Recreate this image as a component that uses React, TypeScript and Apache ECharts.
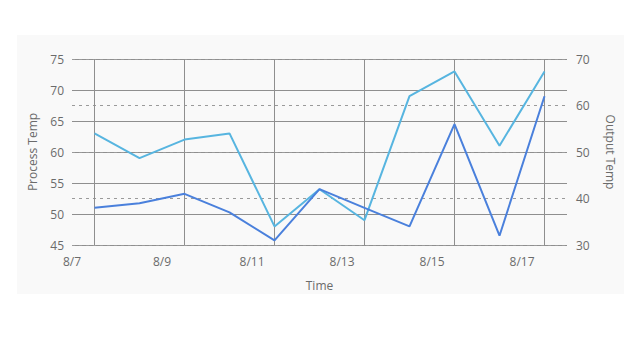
import React, { useEffect, useRef } from "react";
import * as echarts from "echarts";

const DAY = 86400000;
const readingDays = [7, 8, 9, 10, 11, 12, 13, 14, 15, 16, 17]; // August, readings at noon
const processTemp = [63, 59, 62, 63, 48, 54, 49, 69, 73, 61, 73];
const outputTemp = [38, 39, 41, 37, 31, 42, 38, 34, 56, 32, 62];
const verticalGridDays = [7, 9, 11, 13, 15, 17]; // noon
const xStartDay = 7;
const xEndDay = 18;

const ts = (d: number, h = 0) => Date.UTC(2023, 7, d, h);

export default function App() {
  const ref = useRef<HTMLDivElement>(null);
  useEffect(() => {
    if (!ref.current) return;
    const chart = echarts.init(ref.current, null, { renderer: "svg" });
    const font = "'Open Sans', 'Noto Sans', sans-serif";
    const textColor = "#6b6b6b";
    chart.setOption({
      animation: false,
      backgroundColor: "#ffffff",
      textStyle: { fontFamily: font },
      graphic: [
        {
          type: "rect",
          z: -10,
          silent: true,
          shape: { x: 17, y: 35, width: 607, height: 259 },
          style: { fill: "#f9f9f9" },
        },
      ],
      grid: { left: 72, right: 51, top: 59, bottom: 112, containLabel: false },
      xAxis: {
        type: "value",
        min: ts(xStartDay),
        max: ts(xEndDay),
        interval: 2 * DAY,
        name: "Time",
        nameLocation: "middle",
        nameGap: 34,
        nameTextStyle: { color: textColor, fontSize: 12, fontFamily: font },
        axisLine: { show: false },
        axisTick: { show: false },
        splitLine: { show: false },
        axisLabel: {
          color: textColor,
          fontSize: 12,
          margin: 10,
          fontFamily: font,
          showMaxLabel: false,
          formatter: (v: number) => {
            const d = new Date(v);
            return `${d.getUTCMonth() + 1}/${d.getUTCDate()}`;
          },
        },
      },
      yAxis: [
        {
          type: "value",
          min: 45,
          max: 75,
          interval: 5,
          position: "left",
          name: "Process Temp",
          nameLocation: "middle",
          nameGap: 34,
          nameTextStyle: { color: textColor, fontSize: 12, fontFamily: font },
          axisLine: { show: false },
          axisTick: { show: false },
          axisLabel: { color: textColor, fontSize: 12, margin: 8, fontFamily: font },
          splitLine: { show: true, lineStyle: { color: "#8f8f8f", width: 1, type: "solid" } },
        },
        {
          type: "value",
          min: 30,
          max: 70,
          interval: 10,
          position: "right",
          name: "Output Temp",
          nameLocation: "middle",
          nameRotate: -90,
          nameGap: 37,
          nameTextStyle: { color: textColor, fontSize: 12, fontFamily: font },
          axisLine: { show: false },
          axisTick: { show: false },
          axisLabel: { color: textColor, fontSize: 12, margin: 9, fontFamily: font },
          splitLine: { show: true, lineStyle: { color: "#9a9a9a", width: 1, type: [3, 4] } },
        },
      ],
      series: [
        {
          name: "Process Temp",
          type: "line",
          yAxisIndex: 0,
          showSymbol: false,
          lineStyle: { color: "#57b5e0", width: 2 },
          itemStyle: { color: "#57b5e0" },
          data: readingDays.map((d, i) => [ts(d, 12), processTemp[i]]),
          markLine: {
            silent: true,
            symbol: ["none", "none"],
            label: { show: false },
            lineStyle: { color: "#8f8f8f", width: 1, type: "solid" },
            z: 1,
            data: verticalGridDays.map((d) => ({ xAxis: ts(d, 12) })),
          },
          z: 3,
        },
        {
          name: "Output Temp",
          type: "line",
          yAxisIndex: 1,
          showSymbol: false,
          lineStyle: { color: "#4a80dc", width: 2 },
          itemStyle: { color: "#4a80dc" },
          data: readingDays.map((d, i) => [ts(d, 12), outputTemp[i]]),
          z: 4,
        },
      ],
    });
    return () => chart.dispose();
  }, []);
  return (
    <div style={{ position: "fixed", left: 0, top: 0, width: 624, height: 357, background: "#fff" }}>
      <div ref={ref} style={{ width: 624, height: 357 }} />
    </div>
  );
}
